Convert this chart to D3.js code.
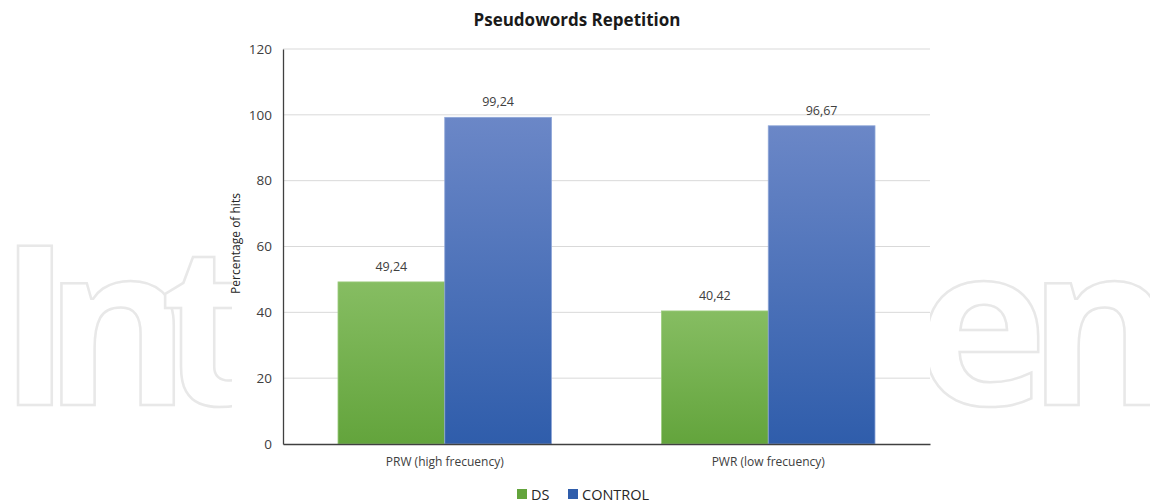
<!DOCTYPE html>
<html>
<head>
<meta charset="utf-8">
<script src="https://cdn.jsdelivr.net/npm/d3@7"></script>
<style>
  body { margin: 0; background: #fff; }
  text { font-family: "Open Sans", sans-serif; }
</style>
</head>
<body>
<div class="board"></div>
<script>
var width = 1150,
    height = 503,
    margin = { top: 49, right: 220, bottom: 59, left: 283 };

// data
var categories = ["PRW (high frecuency)", "PWR (low frecuency)"];
var seriesNames = ["DS", "CONTROL"];
var dsValues = [49.24, 40.42];
var controlValues = [99.24, 96.67];
var valueLabels = [["49,24", "99,24"], ["40,42", "96,67"]];
var yTicks = [0, 20, 40, 60, 80, 100, 120];

var svg = d3.select(".board")
    .append("svg")
    .attr("width", width)
    .attr("height", height)

// watermark behind the chart: only the outer letters of the word show
var wmParts = [{ t: "Int", x: "-2 44 160" }, { t: "en", x: "916 1028" }]
svg.append("g")
    .selectAll("text")
    .data(wmParts)
    .enter()
    .append("text")
    .attr("x", d => d.x)
    .attr("y", 405)
    .attr("font-family", "Lato")
    .attr("font-weight", "bold")
    .attr("font-size", 223)
    .attr("fill", "#fff")
    .attr("stroke", "#e8e8e8")
    .attr("stroke-width", 2.5)
    .text(d => d.t)

// chart area is opaque white
svg.append("rect")
    .attr("x", 232)
    .attr("y", 0)
    .attr("width", 930 - 232)
    .attr("height", height)
    .attr("fill", "#fff")

var x0 = d3.scaleBand()
    .domain(categories)
    .range([margin.left, width - margin.right])
    .paddingInner(0.34)
    .paddingOuter(0.17)

var x1 = d3.scaleBand()
    .domain(seriesNames)
    .range([0, x0.bandwidth()])

var y = d3.scaleLinear()
    .domain([0, 120])
    .range([height - margin.bottom, margin.top])

var colors = { DS: ["#86bd62", "#63a43c"], CONTROL: ["#6b87c7", "#2f5dab"] }

var defs = svg.append("defs")
seriesNames.forEach(s => {
    var g = defs.append("linearGradient")
        .attr("id", "grad-" + s)
        .attr("x1", 0).attr("y1", 0).attr("x2", 0).attr("y2", 1)
    g.append("stop").attr("offset", "0%").attr("stop-color", colors[s][0])
    g.append("stop").attr("offset", "100%").attr("stop-color", colors[s][1])
})

// gridlines
svg.append("g")
    .selectAll("line")
    .data(yTicks.slice(1))
    .enter()
    .append("line")
    .attr("x1", margin.left)
    .attr("x2", width - margin.right)
    .attr("y1", d => y(d))
    .attr("y2", d => y(d))
    .attr("stroke", "#d9d9d9")
    .attr("stroke-width", 1)

// y axis
var yAxis = svg.append("g")
    .attr("transform", `translate(${margin.left},0)`)
    .call(d3.axisLeft(y).tickValues(yTicks).tickSize(0).tickPadding(11))
yAxis.select(".domain").attr("stroke", "#404040").attr("stroke-width", 1.3)
yAxis.selectAll("text")
    .attr("font-family", "Open Sans")
    .attr("font-size", 13.5)
    .attr("fill", "#404040")

// bars
var rows = categories.map((c, i) => ({ cat: c, i: i, vals: [dsValues[i], controlValues[i]] }))

var groups = svg.append("g")
    .selectAll("g")
    .data(rows)
    .enter()
    .append("g")
    .attr("transform", d => `translate(${x0(d.cat)},0)`)

groups.selectAll("rect")
    .data(d => d.vals.map((v, j) => ({ s: seriesNames[j], v: v })))
    .enter()
    .append("rect")
    .attr("x", d => x1(d.s))
    .attr("y", d => y(d.v))
    .attr("width", x1.bandwidth())
    .attr("height", d => y(0) - y(d.v))
    .attr("fill", d => "url(#grad-" + d.s + ")")
    .attr("stroke", d => d.s == "DS" ? "#9ccc7e" : "#8ea6d8")
    .attr("stroke-width", 0.8)

groups.selectAll(".lbl")
    .data(d => d.vals.map((v, j) => ({ s: seriesNames[j], v: v, t: valueLabels[d.i][j] })))
    .enter()
    .append("text")
    .attr("class", "lbl")
    .attr("x", d => x1(d.s) + x1.bandwidth() / 2)
    .attr("y", d => y(d.v) - 11)
    .attr("text-anchor", "middle")
    .attr("font-size", 12.5)
    .attr("fill", "#404040")
    .text(d => d.t)

// x axis baseline and labels
var xAxis = svg.append("g")
    .attr("transform", `translate(0,${y(0)})`)
    .call(d3.axisBottom(x0).tickSize(0).tickPadding(13))
xAxis.select(".domain").attr("stroke", "#404040").attr("stroke-width", 1.3)
xAxis.selectAll("text")
    .attr("font-family", "Open Sans")
    .attr("font-size", 12)
    .attr("fill", "#404040")

// axis title
svg.append("text")
    .attr("transform", `translate(240,${(y(0) + y(120)) / 2 - 3}) rotate(-90)`)
    .attr("text-anchor", "middle")
    .attr("font-size", 12)
    .attr("fill", "#262626")
    .text("Percentage of hits")

// title
svg.append("text")
    .attr("x", 577)
    .attr("y", 26)
    .attr("text-anchor", "middle")
    .attr("font-size", 17)
    .attr("font-weight", "bold")
    .attr("fill", "#1a1a1a")
    .text("Pseudowords Repetition")

// legend
var legendX = [517, 568]
var legend = svg.append("g")
    .selectAll("g")
    .data(seriesNames)
    .enter()
    .append("g")
    .attr("transform", (d, i) => `translate(${legendX[i]},489)`)
legend.append("rect")
    .attr("width", 10)
    .attr("height", 10)
    .attr("fill", d => colors[d][1])
legend.append("text")
    .attr("x", 14)
    .attr("y", 11)
    .attr("font-size", 14.5)
    .attr("fill", "#262626")
    .text(d => d)
</script>
</body>
</html>
